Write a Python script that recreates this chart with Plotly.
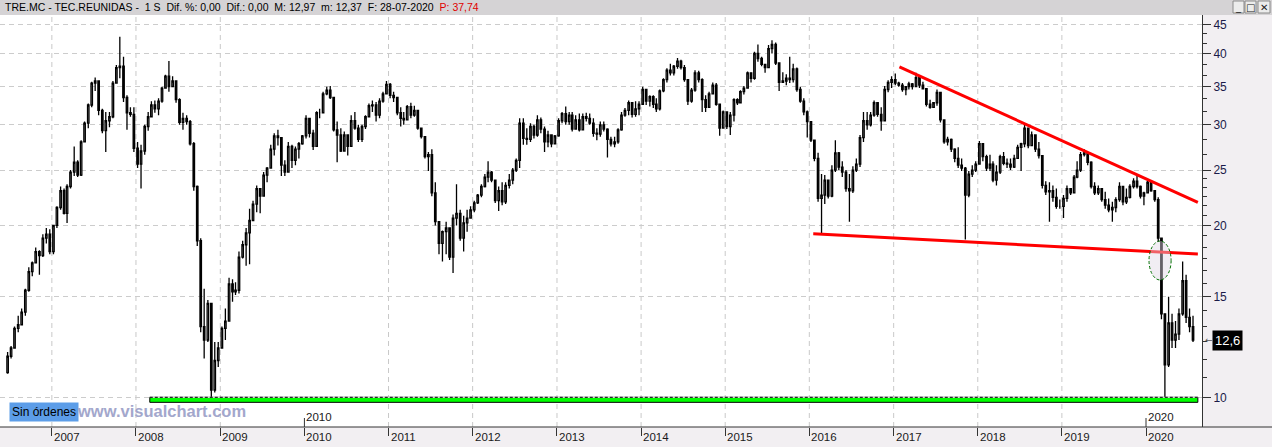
import math
import pandas as pd
import plotly.graph_objects as go

# ---------------- data: half-month candles ----------------
# each year: first half / second half of every month (2006 starts with 2nd half of June)
first_open = 11.05
close_2006 = [11.8, 12.2, 13.2, 13.4, 14.1, 15.4, 16.6, 17.2, 18.0, 17.7, 19.0, 19.3, 18.0]
high_2006 = [12.0, 12.3, 13.3, 13.9, 14.3, 15.5, 16.9, 17.3, 18.3, 18.1, 19.3, 19.8, 19.7]
low_2006 = [11.0, 11.7, 12.3, 13.0, 13.4, 13.9, 15.3, 16.3, 17.2, 16.4, 17.6, 18.6, 17.8]

close_2007 = [20.0, 21.5, 23.0, 21.0, 23.4, 24.8, 25.8, 24.5, 28.0, 30.2, 32.5, 35.5,
              35.8, 31.8, 29.3, 30.5, 31.0, 35.5, 37.8, 38.0, 33.5, 31.5, 31.3, 27.3]
high_2007 = [20.0, 21.6, 23.4, 23.2, 23.6, 25.0, 27.5, 26.0, 28.2, 30.4, 32.7, 35.7,
             36.3, 35.8, 32.0, 31.6, 31.6, 35.8, 38.2, 42.8, 39.5, 33.8, 32.2, 32.2]
low_2007 = [17.8, 19.8, 21.3, 20.9, 20.2, 23.2, 24.4, 24.3, 24.4, 28.0, 29.6, 32.2,
            34.4, 31.2, 29.0, 26.9, 29.7, 30.8, 35.5, 36.2, 32.9, 29.4, 31.0, 26.9]

close_2008 = [25.6, 27.0, 29.8, 31.0, 32.5, 32.0, 33.0, 34.8, 36.5, 35.0, 35.8, 33.2,
              30.3, 30.8, 30.4, 27.8, 23.4, 18.8, 13.3, 12.6, 14.6, 10.3, 11.6, 12.2]
high_2008 = [28.0, 27.7, 30.0, 31.6, 33.0, 33.1, 33.4, 35.0, 36.7, 38.8, 36.5, 35.8,
             33.4, 31.5, 31.2, 30.6, 28.0, 23.5, 19.0, 15.5, 14.8, 14.6, 12.5, 12.5]
low_2008 = [25.2, 23.2, 26.6, 29.3, 31.0, 31.5, 31.2, 32.8, 34.7, 34.3, 35.0, 32.8,
            30.0, 29.4, 30.0, 27.6, 23.0, 18.4, 13.0, 11.7, 12.5, 9.85, 10.2, 11.3]

close_2009 = [13.2, 13.6, 15.8, 15.3, 15.4, 17.6, 18.5, 19.4, 20.4, 21.8, 23.2, 22.5,
              24.5, 25.2, 27.2, 28.7, 28.5, 25.5, 24.8, 27.5, 26.0, 27.2, 27.8, 28.7]
high_2009 = [13.3, 14.3, 16.2, 16.1, 15.9, 18.0, 18.8, 19.8, 21.4, 22.1, 23.5, 23.0,
             24.8, 25.3, 27.7, 29.0, 29.4, 28.5, 26.0, 28.0, 27.7, 27.5, 28.0, 28.8]
low_2009 = [12.2, 12.6, 13.6, 14.7, 15.1, 15.2, 17.5, 17.0, 17.1, 20.8, 21.1, 21.0,
            22.5, 23.8, 25.2, 26.5, 27.6, 24.4, 24.4, 24.8, 25.2, 25.5, 26.2, 27.7]

close_2010 = [30.8, 29.0, 27.5, 31.5, 31.5, 34.0, 34.5, 33.5, 29.4, 28.8, 27.0, 28.8,
              27.5, 30.5, 29.6, 28.3, 29.8, 31.0, 32.4, 32.5, 31.2, 33.0, 34.0, 35.3]
high_2010 = [31.2, 30.5, 29.4, 31.7, 32.0, 34.3, 35.0, 35.1, 33.5, 30.4, 29.6, 29.2,
             28.8, 31.2, 31.6, 30.0, 30.0, 31.2, 32.7, 33.1, 32.9, 33.4, 34.3, 35.8]
low_2010 = [28.4, 28.5, 27.1, 27.5, 30.8, 31.4, 33.8, 33.3, 29.2, 25.8, 26.9, 27.3,
            26.5, 27.5, 29.4, 28.0, 28.0, 29.5, 30.9, 31.6, 30.4, 30.8, 32.8, 33.9]

close_2011 = [33.8, 33.5, 31.5, 30.8, 30.6, 32.3, 31.2, 31.8, 29.6, 28.6, 26.4, 26.6,
              22.8, 20.3, 18.6, 19.5, 19.8, 17.6, 20.6, 21.0, 19.0, 20.2, 20.6, 21.3]
high_2011 = [35.5, 34.3, 33.6, 32.2, 31.6, 32.5, 32.8, 32.4, 31.8, 29.6, 28.6, 26.9,
             27.2, 23.8, 20.3, 19.6, 20.3, 19.6, 20.9, 23.6, 21.3, 20.8, 21.3, 21.6]
low_2011 = [33.4, 32.9, 31.2, 29.8, 30.0, 30.6, 30.8, 31.0, 29.4, 28.4, 26.2, 24.9,
            22.5, 20.0, 17.8, 17.3, 17.8, 17.4, 16.5, 20.0, 18.8, 18.0, 19.5, 20.8]

close_2012 = [21.9, 22.6, 23.4, 24.3, 24.8, 24.0, 22.1, 23.0, 22.0, 23.5, 24.0, 25.0,
              26.0, 30.2, 28.4, 28.3, 29.8, 28.8, 30.6, 29.5, 28.0, 28.8, 27.8, 28.7]
high_2012 = [22.1, 22.7, 23.6, 24.6, 25.9, 24.9, 24.0, 23.4, 23.8, 23.8, 24.6, 25.2,
             26.2, 30.8, 30.8, 29.6, 30.2, 30.0, 31.2, 30.9, 29.8, 29.3, 28.8, 28.8]
low_2012 = [21.1, 21.8, 22.4, 23.3, 23.8, 23.8, 21.9, 21.2, 21.7, 21.8, 23.2, 23.6,
            24.8, 25.2, 27.7, 27.7, 28.0, 28.4, 28.6, 29.0, 26.9, 27.4, 27.4, 27.8]

close_2013 = [30.5, 31.4, 30.4, 31.2, 29.5, 30.6, 29.4, 31.0, 30.8, 30.2, 29.0, 28.9,
              30.0, 29.5, 28.3, 27.8, 28.0, 29.4, 31.2, 31.8, 32.8, 31.3, 32.0, 32.6]
high_2013 = [30.8, 31.6, 32.3, 31.6, 31.6, 31.2, 31.4, 31.4, 31.5, 31.4, 30.8, 29.6,
             30.4, 30.4, 29.6, 28.6, 28.6, 29.6, 31.6, 32.1, 33.1, 32.6, 33.0, 33.0]
low_2013 = [28.6, 30.2, 30.0, 30.0, 29.2, 29.4, 29.2, 29.4, 30.4, 30.0, 28.6, 28.2,
            28.6, 29.2, 26.3, 27.5, 27.4, 27.8, 29.3, 31.0, 31.2, 30.9, 31.0, 31.2]

close_2014 = [34.6, 33.0, 33.6, 32.6, 32.0, 34.4, 36.0, 37.4, 37.0, 38.0, 38.8, 37.8,
              36.0, 33.0, 34.5, 37.0, 36.0, 33.2, 32.2, 34.0, 35.2, 32.6, 29.6, 31.6]
high_2014 = [35.0, 34.6, 33.8, 33.8, 33.4, 34.6, 36.2, 37.7, 38.4, 38.2, 39.3, 39.0,
             38.2, 36.0, 34.8, 37.4, 37.3, 36.2, 33.8, 34.3, 35.6, 35.5, 32.4, 31.8]
low_2014 = [32.8, 32.5, 32.3, 32.1, 31.6, 31.8, 34.2, 35.6, 36.6, 36.6, 37.6, 37.5,
            35.7, 32.5, 32.8, 34.3, 35.6, 31.6, 31.6, 32.2, 34.2, 32.4, 28.7, 29.8]

close_2015 = [29.8, 31.2, 33.2, 32.8, 34.3, 34.8, 37.0, 36.2, 40.0, 39.2, 38.3, 37.8,
              40.8, 41.5, 38.5, 35.6, 35.8, 36.2, 36.0, 37.6, 34.6, 33.0, 31.6, 30.4]
high_2015 = [31.4, 31.6, 33.4, 33.4, 34.5, 35.1, 37.2, 36.9, 40.3, 41.5, 39.5, 38.3,
             41.4, 42.2, 41.8, 38.6, 37.1, 36.8, 39.5, 38.4, 37.8, 35.0, 33.4, 31.8]
low_2015 = [29.5, 28.8, 30.4, 32.5, 32.8, 33.9, 34.8, 35.6, 36.0, 38.7, 38.0, 37.0,
            37.8, 40.0, 38.2, 34.4, 35.5, 35.2, 35.5, 35.6, 34.3, 32.8, 31.2, 28.5]

close_2016 = [28.2, 26.2, 22.3, 22.6, 24.0, 22.5, 25.0, 26.8, 25.3, 24.8, 23.2, 23.0,
              25.0, 25.6, 28.5, 30.5, 30.0, 31.2, 32.8, 31.3, 30.5, 34.6, 35.6, 36.0]
high_2016 = [30.4, 28.2, 26.8, 24.6, 24.5, 24.0, 25.5, 28.2, 26.9, 25.9, 25.0, 24.6,
             25.4, 26.2, 28.8, 31.6, 31.6, 31.6, 33.1, 32.9, 32.2, 35.1, 35.9, 36.5]
low_2016 = [28.0, 25.9, 22.0, 19.3, 21.8, 22.3, 22.4, 24.8, 25.0, 24.3, 22.9, 20.3,
            22.8, 24.8, 25.3, 28.0, 29.4, 29.8, 31.0, 31.0, 29.3, 30.4, 34.2, 34.8]

close_2017 = [35.5, 35.2, 34.6, 35.0, 35.4, 35.0, 36.3, 35.2, 34.7, 32.6, 32.2, 32.8,
              34.2, 30.6, 28.0, 28.3, 27.2, 26.2, 25.5, 25.2, 22.6, 24.6, 25.0, 25.6]
high_2017 = [36.9, 35.7, 35.5, 35.0, 35.7, 35.5, 37.0, 36.4, 35.7, 34.6, 33.2, 32.9,
             34.6, 34.0, 30.6, 28.6, 28.4, 27.3, 27.4, 26.2, 25.3, 24.9, 25.5, 25.9]
low_2017 = [35.2, 35.0, 34.3, 33.8, 34.6, 34.6, 35.0, 34.8, 34.6, 32.3, 32.0, 32.2,
            32.4, 30.3, 27.8, 27.6, 26.9, 25.8, 25.2, 24.9, 18.9, 22.4, 24.3, 24.8]

close_2018 = [27.8, 26.4, 25.2, 25.6, 24.0, 24.8, 26.4, 25.7, 25.6, 25.3, 26.2, 27.4,
              27.8, 29.6, 27.6, 28.8, 27.2, 26.5, 23.5, 22.9, 23.0, 22.4, 21.6, 21.6]
high_2018 = [28.1, 27.4, 26.6, 26.6, 25.9, 25.5, 26.6, 26.9, 26.2, 26.2, 26.6, 27.7,
             27.9, 30.2, 29.4, 29.2, 28.4, 28.0, 26.2, 23.9, 23.8, 23.5, 23.2, 22.2]
low_2018 = [25.8, 25.9, 24.9, 24.9, 23.8, 23.5, 24.6, 25.5, 25.2, 25.0, 25.2, 26.4,
            24.9, 27.4, 27.3, 28.0, 26.9, 26.2, 23.2, 22.6, 20.3, 22.0, 21.4, 21.4]

close_2019 = [22.3, 23.2, 22.8, 24.3, 25.0, 26.6, 26.8, 25.8, 23.4, 22.8, 23.2, 22.2,
              21.7, 21.3, 21.5, 22.2, 23.4, 22.0, 22.4, 23.4, 23.9, 23.4, 22.5, 22.8]
high_2019 = [22.6, 23.5, 23.2, 24.5, 25.9, 26.9, 27.2, 26.9, 25.9, 23.8, 23.5, 23.2,
             22.9, 22.3, 22.0, 22.4, 23.8, 22.9, 23.2, 23.6, 24.2, 24.5, 23.5, 22.9]
low_2019 = [20.6, 22.0, 22.6, 23.0, 24.2, 24.8, 26.4, 25.5, 23.2, 22.6, 22.6, 22.0,
            21.4, 21.1, 20.3, 21.1, 22.0, 21.7, 21.8, 22.3, 23.2, 23.2, 22.3, 21.7]

close_2020 = [23.8, 23.0, 22.2, 19.0, 14.0, 11.4, 13.5, 12.6, 12.9, 14.0, 16.0, 13.8, 13.3, 12.6]
high_2020 = [24.0, 23.8, 22.8, 22.4, 19.0, 13.4, 15.0, 14.0, 13.6, 14.3, 17.3, 16.4, 14.3, 13.9]
low_2020 = [22.9, 22.9, 22.0, 18.7, 13.7, 10.0, 11.3, 12.2, 12.2, 12.6, 13.9, 13.5, 13.0, 12.5]

years_data = range(2006, 2021)
close = sum([globals()[f"close_{y}"] for y in years_data], [])
high = sum([globals()[f"high_{y}"] for y in years_data], [])
low = sum([globals()[f"low_{y}"] for y in years_data], [])
open_ = [first_open] + close[:-1]
high = [max(h, o, c) for h, o, c in zip(high, open_, close)]
low = [min(l, o, c) for l, o, c in zip(low, open_, close)]

month_starts = pd.date_range("2006-06-01", "2020-07-01", freq="MS")
bar_dates = []
for m in month_starts:
    bar_dates += [m + pd.Timedelta(days=7), m + pd.Timedelta(days=22)]
bar_dates = bar_dates[1:]  # chart begins in the second half of June 2006

year_ticks = list(range(2007, 2021))
decade_years = [2010, 2020]
price_ticks = [10, 15, 20, 25, 30, 35, 40, 45]
price_minor = [43.33, 41.67, 38.33, 36.67, 33.33, 31.67, 28.33, 26.67,
               24.17, 23.33, 22.5, 21.67, 20.83, 19.17, 18.33, 17.5, 16.67, 15.83,
               14.17, 13.33, 12.5, 11.67, 10.83]

upper_trend_dates = ["2017-01-26", "2020-08-13"]
upper_trend_prices = [37.9, 21.95]
lower_trend_dates = ["2016-01-18", "2020-08-13"]
lower_trend_prices = [19.34, 17.82]
support_dates = ["2008-03-01", "2020-08-13"]
support_prices = [9.8, 10.0]
break_dates = ["2020-01-14", "2020-04-19"]
break_prices = [16.05, 18.78]

header = ("TRE.MC - TEC.REUNIDAS -\u00a0\u00a01 S\u00a0\u00a0Dif. %: 0,00\u00a0\u00a0Dif.: 0,00"
          "\u00a0\u00a0M: 12,97\u00a0\u00a0m: 12,37\u00a0\u00a0F: 28-07-2020\u00a0\u00a0")
header_red = "P: 37,74"

# ---------------- layout geometry ----------------
W, H = 1272, 447
ML, MR, MT, MB = 0, 70, 15, 20
PW = W - ML - MR
PH = H - MT - MB


def px2x(px):
    return (px - ML) / PW


def py2y(py):
    return (H - MB - py) / PH


FONT = "Liberation Sans"

fig = go.Figure()
fig.add_trace(go.Candlestick(
    x=bar_dates, open=open_, high=high, low=low, close=close,
    increasing=dict(line=dict(color="black", width=1.3), fillcolor="white"),
    decreasing=dict(line=dict(color="black", width=1.3), fillcolor="black"),
    whiskerwidth=0, showlegend=False, hoverinfo="skip"))
fig.add_trace(go.Scatter(x=upper_trend_dates, y=upper_trend_prices, mode="lines",
                         line=dict(color="#ff0000", width=3), showlegend=False, hoverinfo="skip"))
fig.add_trace(go.Scatter(x=lower_trend_dates, y=lower_trend_prices, mode="lines",
                         line=dict(color="#ff0000", width=3), showlegend=False, hoverinfo="skip"))

shapes = []
shapes.append(dict(type="rect", xref="paper", yref="paper", x0=-0.01, x1=px2x(W + 2),
                   y0=1, y1=py2y(-2), fillcolor="#d5d3d5", line=dict(width=0), layer="below"))
for yr in year_ticks:
    if yr in decade_years:
        continue
    shapes.append(dict(type="line", xref="x", yref="paper", x0=f"{yr}-01-01", x1=f"{yr}-01-01",
                       y0=0, y1=1, line=dict(color="#c9c9c9", width=1, dash="5px,4px"), layer="below"))
shapes.append(dict(type="line", xref="paper", yref="paper", x0=0, x1=px2x(W), y0=0, y1=0,
                   line=dict(color="#333333", width=1)))
for yr in decade_years:
    shapes.append(dict(type="line", xref="x", yref="paper", x0=f"{yr}-01-01", x1=f"{yr}-01-01",
                       y0=0, y1=9 / PH, line=dict(color="#333333", width=1)))
shapes.append(dict(type="rect", xref="x", yref="y", x0=support_dates[0], x1=support_dates[1],
                   y0=support_prices[0], y1=support_prices[1],
                   fillcolor="#00ff00", line=dict(color="black", width=1)))
shapes.append(dict(type="line", xref="x", yref="y", x0=support_dates[0], x1=support_dates[1],
                   y0=support_prices[1], y1=support_prices[1], line=dict(color="white", width=1)))
shapes.append(dict(type="line", xref="x", yref="y", x0=support_dates[0], x1=support_dates[1],
                   y0=support_prices[1], y1=support_prices[1],
                   line=dict(color="black", width=1, dash="3px,2px")))
shapes.append(dict(type="circle", xref="x", yref="y", x0=break_dates[0], x1=break_dates[1],
                   y0=break_prices[0], y1=break_prices[1],
                   fillcolor="rgba(225,215,228,0.45)", line=dict(color="#007000", width=1, dash="3px,2px")))
for bx0, bx1 in [(1233, 1244), (1245, 1256), (1258, 1270)]:
    shapes.append(dict(type="rect", xref="paper", yref="paper", x0=px2x(bx0), x1=px2x(bx1),
                       y0=py2y(13), y1=py2y(1), fillcolor="#ececec", line=dict(color="#8a8a8a", width=1)))

annotations = []
annotations.append(dict(xref="paper", yref="paper", x=px2x(3), y=py2y(7.5), xanchor="left", yanchor="middle",
                        text=header + f"<span style='color:#e00000'>{header_red}</span>", showarrow=False,
                        font=dict(family=FONT, size=10.5, color="black")))
for sym, bx in [("_", 1238.5), ("\u25a1", 1250.5), ("\u2715", 1264)]:
    annotations.append(dict(xref="paper", yref="paper", x=px2x(bx), y=py2y(7), xanchor="center",
                            yanchor="middle", text=sym, showarrow=False,
                            font=dict(family="DejaVu Sans", size=10, color="#222222")))
for yr in year_ticks:
    annotations.append(dict(xref="x", yref="paper", x=f"{yr}-01-01", y=0, xanchor="left", yanchor="top",
                            xshift=0, yshift=-2, text=str(yr), showarrow=False,
                            font=dict(family=FONT, size=11.5, color="#1a1a1a")))
for yr in decade_years:
    annotations.append(dict(xref="x", yref="paper", x=f"{yr}-01-01", y=0, xanchor="left", yanchor="bottom",
                            xshift=0, yshift=2, text=str(yr), showarrow=False,
                            font=dict(family=FONT, size=11.5, color="#1a1a1a")))
annotations.append(dict(xref="paper", yref="paper", x=px2x(9), y=py2y(412), xanchor="left", yanchor="middle",
                        text="Sin órdenes", showarrow=False, bgcolor="#5c9de8", borderpad=2,
                        font=dict(family=FONT, size=12, color="black")))
annotations.append(dict(xref="paper", yref="paper", x=px2x(75), y=py2y(411), xanchor="left", yanchor="middle",
                        text="<b>www.visualchart.com</b>", showarrow=False,
                        font=dict(family=FONT, size=16.5, color="#a3a7cc")))
last_label = f"{close[-1]:.1f}".replace(".", ",")
annotations.append(dict(xref="paper", yref="y", x=1, xshift=10, y=math.log10(close[-1]), xanchor="left",
                        yanchor="middle", text=last_label, showarrow=False, bgcolor="black", borderpad=2,
                        font=dict(family=FONT, size=13, color="white")))
annotations.append(dict(xref="paper", yref="y", x=1, xshift=1, y=math.log10(close[-1]), xanchor="left",
                        yanchor="middle", text="\u2190", showarrow=False,
                        font=dict(family="DejaVu Sans", size=9, color="#555555")))

fig.update_layout(
    width=W, height=H, margin=dict(l=ML, r=MR, t=MT, b=MB, autoexpand=False),
    paper_bgcolor="#f2eff2", plot_bgcolor="white", showlegend=False,
    shapes=shapes, annotations=annotations,
    xaxis=dict(type="date", range=["2006-05-21", "2020-08-31"], showgrid=False, zeroline=False,
               showline=False, ticks="outside", ticklen=8, tickcolor="#333333",
               tickvals=[f"{y}-01-01" for y in year_ticks], showticklabels=False,
               rangeslider=dict(visible=False), fixedrange=True),
    yaxis=dict(type="log", range=[math.log10(8.872), math.log10(46.72)], side="right",
               tickvals=price_ticks, ticktext=[str(v) for v in price_ticks],
               ticks="outside", ticklen=8, tickcolor="#333333", showline=True, linecolor="#333333",
               showgrid=True, gridcolor="#cccccc", griddash="5px,4px", gridwidth=1, zeroline=False,
               tickfont=dict(family=FONT, size=12, color="#1a1a48"),
               minor=dict(tickvals=price_minor, ticks="outside", ticklen=4, tickcolor="#333333",
                          showgrid=False),
               fixedrange=True),
)

fig.write_html("out.html")
